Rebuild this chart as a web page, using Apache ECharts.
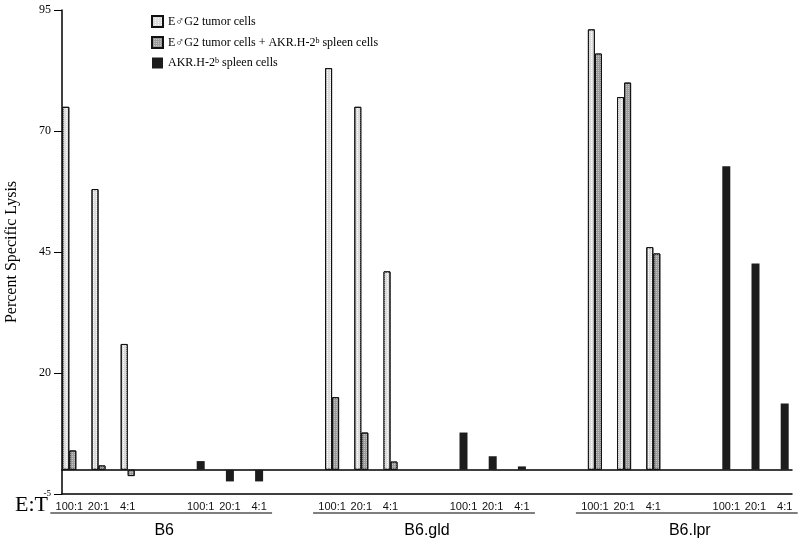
<!DOCTYPE html>
<html lang="en">
<head>
  <meta charset="UTF-8">
  <title>Percent Specific Lysis</title>
  <script src="https://cdn.jsdelivr.net/npm/echarts@6/dist/echarts.min.js"></script>
  <style>
    html, body { margin: 0; padding: 0; background: #fff; }
    #chart { width: 800px; height: 547px; }
  </style>
</head>
<body>
  <div id="chart"></div>
<script>
  // strains and effector:target ratios
  var strains = ['B6', 'B6.gld', 'B6.lpr'];
  var ratios = ['100:1', '20:1', '4:1'];
  var seriesNames = [
    'E\u2642G2 tumor cells',
    'E\u2642G2 tumor cells + AKR.H-2b spleen cells',
    'AKR.H-2b spleen cells'
  ];

  // % lysis, ordered B6 (100,20,4), B6.gld (100,20,4), B6.lpr (100,20,4)
  var tumor = [75, 58, 26, 83, 75, 41, 91, 77, 46];
  var mixed = [4, 0.9, -1.3, 15, 7.7, 1.7, 86, 80, 44.7];
  var akr = [1.8, -2.4, -2.4, 7.7, 2.8, 0.7, 62.7, 42.6, 13.7];

  // y axis ticks
  var yMin = -5, yMax = 95, yStep = 25;

  // slot layout on the category axis (spacing only)
  var SLOTS = 50, STRAIN_STEP = 18, AKR_OFFSET = 9, RATIO_STEP = 2;

  var cats = [], catLabels = [], tumorData = [], mixedData = [], akrData = [];
  for (var i = 0; i < SLOTS; i++) {
    cats.push('slot' + i);
    catLabels.push('');
    tumorData.push('-');
    mixedData.push('-');
    akrData.push('-');
  }
  strains.forEach(function (s, si) {
    ratios.forEach(function (r, ri) {
      var k = si * 3 + ri;
      var a = si * STRAIN_STEP + ri * RATIO_STEP;
      var b = a + AKR_OFFSET;
      catLabels[a] = r;
      catLabels[b] = r;
      tumorData[a] = tumor[k];
      mixedData[a] = mixed[k];
      akrData[b] = akr[k];
    });
  });

  var serif = 'Liberation Serif';
  var sans = 'Liberation Sans';

  var myChart = echarts.init(document.getElementById('chart'));
  var option = {
    animation: false,
    grid: { left: 62, right: 8, top: 10, bottom: 53, outerBoundsMode: 'none' },
    legend: {
      orient: 'vertical',
      left: 146,
      top: 10,
      icon: 'rect',
      itemWidth: 11,
      itemHeight: 11,
      itemGap: 8,
      data: seriesNames,
      formatter: function (n) { return n.replace('H-2b', 'H-2{sup|b}'); },
      textStyle: {
        fontFamily: serif, fontSize: 12, color: '#000',
        rich: { sup: { fontFamily: serif, fontSize: 8, color: '#000', verticalAlign: 'top' } }
      }
    },
    xAxis: [
      {
        type: 'category',
        data: cats,
        position: 'top',
        axisLine: { onZero: true, lineStyle: { color: '#000', width: 1.5 } },
        axisTick: { show: false },
        axisLabel: { show: false }
      },
      {
        type: 'category',
        data: cats,
        position: 'bottom',
        axisLine: { onZero: false, lineStyle: { color: '#000', width: 1.5 } },
        axisTick: { show: false },
        axisLabel: {
          interval: 0,
          margin: 7,
          fontFamily: sans,
          fontSize: 11,
          color: '#111',
          formatter: function (v, idx) { return catLabels[idx]; }
        }
      }
    ],
    yAxis: {
      type: 'value',
      min: yMin,
      max: yMax,
      interval: yStep,
      name: 'Percent Specific Lysis',
      nameLocation: 'middle',
      nameGap: 42,
      nameTextStyle: { fontFamily: serif, fontSize: 16, color: '#000' },
      axisLine: { show: true, lineStyle: { color: '#000', width: 1.5 } },
      axisTick: { show: true, length: 8, lineStyle: { color: '#000' } },
      splitLine: { show: false },
      axisLabel: {
        fontFamily: serif, fontSize: 12, color: '#000', margin: 11,
        formatter: function (v) { return v === yMin ? '{s|' + v + '}' : v; },
        rich: { s: { fontFamily: serif, fontSize: 9, color: '#000' } }
      }
    },
    series: [
      {
        name: seriesNames[0],
        type: 'bar',
        xAxisIndex: 0,
        data: tumorData,
        barWidth: 7,
        barGap: '0%',
        itemStyle: {
          color: '#dcdcdc', borderColor: '#111', borderWidth: 1,
          decal: { symbol: 'rect', symbolSize: 1, dashArrayX: [1, 2], dashArrayY: [1, 1], color: '#fff' }
        }
      },
      {
        name: seriesNames[1],
        type: 'bar',
        xAxisIndex: 0,
        data: mixedData,
        barWidth: 7,
        barGap: '0%',
        itemStyle: {
          color: '#9a9a9a', borderColor: '#111', borderWidth: 1,
          decal: { symbol: 'rect', symbolSize: 1, dashArrayX: [1, 1], dashArrayY: [1, 1], color: '#c4c4c4' }
        }
      },
      {
        name: seriesNames[2],
        type: 'bar',
        xAxisIndex: 1,
        data: akrData,
        barWidth: 8,
        itemStyle: { color: '#1c1c1c' }
      }
    ]
  };
  myChart.setOption(option);

  // strain underlines and names, placed from the category axis
  var g = [{
    type: 'text', x: 15, y: 505,
    style: { text: 'E:T', font: '22px "Liberation Serif"', fill: '#000', verticalAlign: 'middle' }
  }];
  strains.forEach(function (s, si) {
    var x1 = myChart.convertToPixel({ xAxisIndex: 1 }, si * STRAIN_STEP);
    var x2 = myChart.convertToPixel({ xAxisIndex: 1 }, si * STRAIN_STEP + AKR_OFFSET + 2 * RATIO_STEP);
    g.push({
      type: 'line',
      shape: { x1: x1 - 19, y1: 513, x2: x2 + 13, y2: 513 },
      style: { stroke: '#000', lineWidth: 1.2 }
    });
    g.push({
      type: 'text', x: (x1 + x2) / 2, y: 531,
      style: { text: s, font: '16px "Liberation Sans"', fill: '#000', align: 'center', verticalAlign: 'middle' }
    });
  });
  myChart.setOption({ graphic: g });
</script>
</body>
</html>
